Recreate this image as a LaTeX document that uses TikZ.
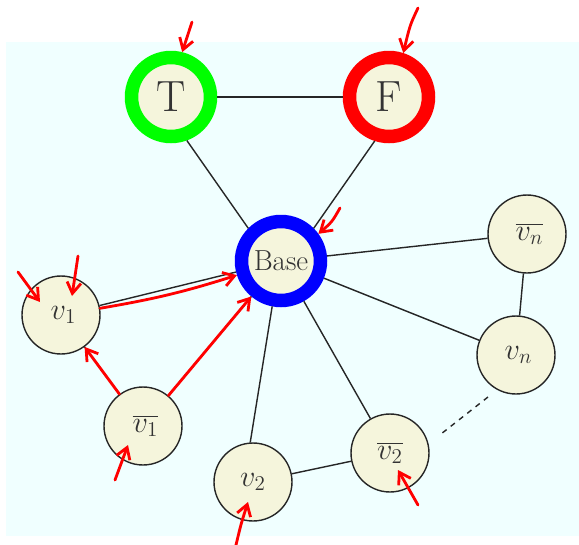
\documentclass[tikz,border=0pt]{standalone}
\usepackage{tikz}
\usepackage{xcolor}
\usetikzlibrary{arrows.meta}

\definecolor{bgcyan}{RGB}{240,255,255}
\definecolor{nodebeige}{RGB}{245,245,220}

\begin{document}
\begin{tikzpicture}[x=0.02cm,y=-0.02cm,
  vertex/.style={circle,draw=black!85,fill=nodebeige,line width=0.8pt,
    minimum size=1.56cm,inner sep=0pt,font=\fontsize{17}{20}\selectfont,text=black!80},
  ringnode/.style={circle,fill=nodebeige,line width=0.27cm,
    minimum size=1.58cm,inner sep=0pt,text=black!80},
  link/.style={draw=black!85,line width=0.8pt},
  scribble/.style={red,line width=1.6pt,line cap=round,line join=round,
    -{Straight Barb[length=2.2mm,width=2.8mm]}}]

% Canvas
\useasboundingbox (0,0) rectangle (579,545);
\fill[bgcyan] (6,42) rectangle (579,536);

% Literal nodes
\node[ringnode,draw=green,font=\Huge] (T) at (171,97) {T};
\node[ringnode,draw=red,font=\Huge] (F) at (389,97) {F};
\node[ringnode,draw=blue,font=\fontsize{16.5}{19}\selectfont] (Base) at (281,261) {Base};

% Variable nodes
\node[vertex] (v1) at (61,315) {$\,v_1$};
\node[vertex] (v1b) at (143,426) {$\,\overline{v_1}$};
\node[vertex] (v2) at (253,482) {$v_2$};
\node[vertex] (v2b) at (390,453) {$\overline{v_2}$};
\node[vertex] (vnb) at (527,234) {$\,\overline{v_n}$};
\node[vertex] (vn) at (516,355) {$\,v_n$};

% Edges
\draw[link] (T) -- (F);
\draw[link] (T.-70) -- (Base.135);
\draw[link] (F.-108) -- (Base.45);
\draw[link] (Base) -- (v1);
\draw[link] (Base) -- (v1b);
\draw[link] (v1) -- (v1b);
\draw[link] (Base.-101) -- (v2.94);
\draw[link] (Base) -- (v2b);
\draw[link] (v2) -- (v2b);
\draw[link] (Base) -- (vnb);
\draw[link] (Base) -- (vn);
\draw[link] (vnb) -- (vn);

% Dots between v_n and v_2
\coordinate (dotsA) at (488,397);
\coordinate (dotsB) at (441,434);
\draw[link,dashed] (dotsA) -- (dotsB);

% Red scribbles
\draw[scribble] (192,22) -- (T.76);
\draw[scribble] (418,8) .. controls (410,25) .. (F.72);
\draw[scribble] (340,208) .. controls (332,222) .. (Base.36);
\draw[scribble] (18,272) -- (40,302);
\draw[scribble] (78,256) -- (72,296);
\draw[scribble] (v1) to[bend right=4] (Base);
\draw[scribble] (v1b) -- (Base);
\draw[scribble] (v1b) -- (v1);
\draw[scribble] (115,480) -- (128,445);
\draw[scribble] (236,545) .. controls (241,524) .. (248,502);
\draw[scribble] (418,505) -- (398,470);

\end{tikzpicture}
\end{document}
